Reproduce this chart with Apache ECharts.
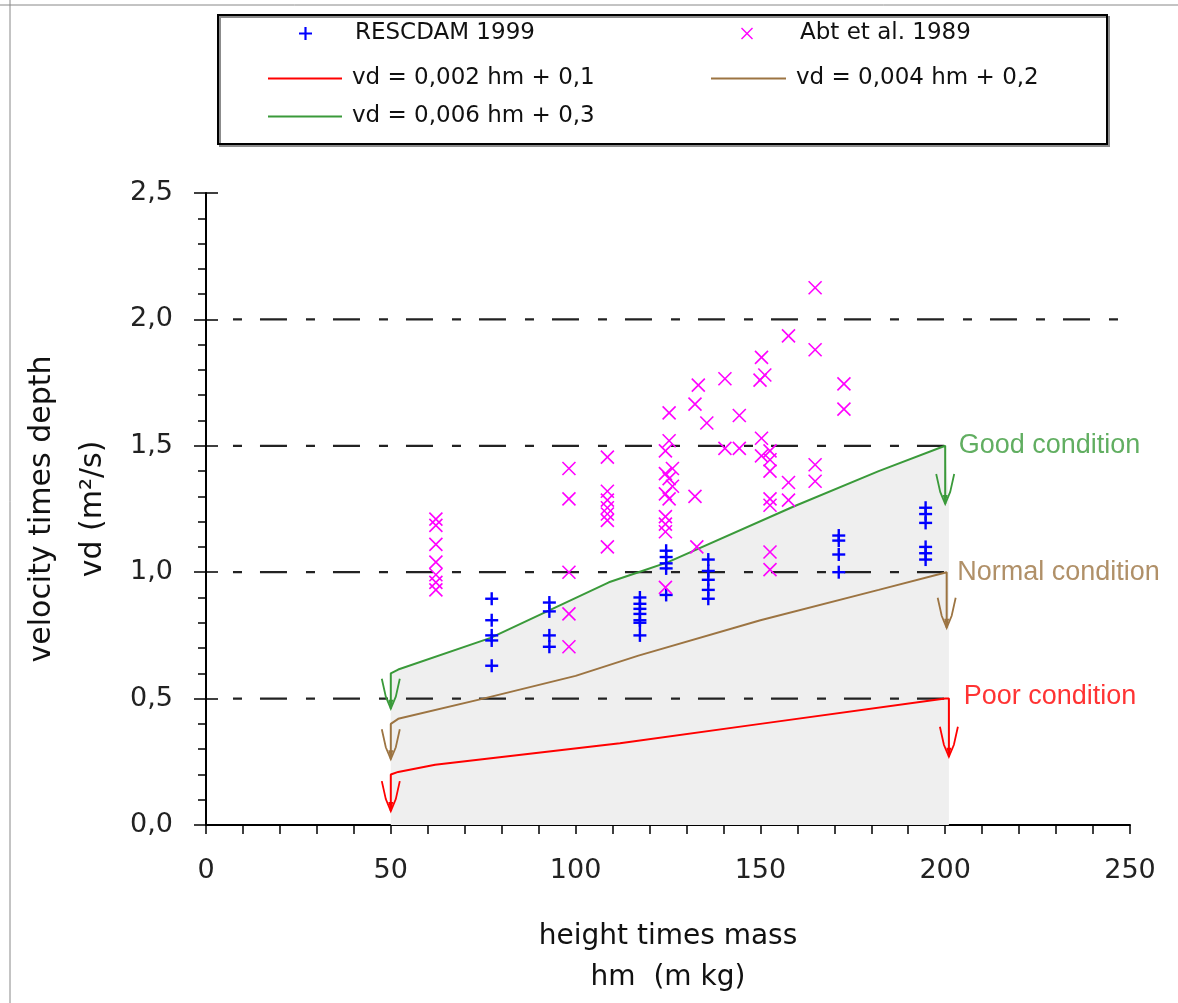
<!DOCTYPE html>
<html>
<head>
<meta charset="utf-8">
<script src="https://cdn.jsdelivr.net/npm/echarts@6/dist/echarts.min.js"></script>
<style>
html, body {margin:0; padding:0; background:#fff;}
#main {width:1178px; height:1003px;}
</style>
</head>
<body>
<div id="main"></div>
<script>
// RESCDAM 1999 measurements [hm, vd]
var rescdam = [
    [77.3,0.895],[77.3,0.81],[77.3,0.75],[77.3,0.73],[77.3,0.63],
    [92.9,0.88],[92.9,0.845],[92.9,0.75],[92.9,0.705],
    [117.4,0.90],[117.4,0.875],[117.4,0.855],[117.4,0.835],[117.4,0.81],[117.4,0.80],[117.4,0.75],
    [124.5,1.085],[124.5,1.06],[124.5,1.035],[124.5,1.015],[124.5,0.91],
    [135.9,1.05],[135.9,1.005],[135.9,0.97],[135.9,0.93],[135.9,0.895],
    [171.2,1.145],[171.2,1.125],[171.2,1.07],[171.2,1.0],
    [194.7,1.255],[194.7,1.23],[194.7,1.195],[194.7,1.10],[194.7,1.075],[194.7,1.05]
];
// Abt et al. 1989 measurements [hm, vd]
var abt = [
    [62.2,1.21],[62.2,1.185],[62.2,1.11],[62.2,1.04],[62.2,0.99],[62.2,0.96],[62.2,0.93],
    [98.2,1.41],[98.2,1.29],[98.2,1.0],[98.2,0.835],[98.2,0.705],
    [108.6,1.455],[108.6,1.32],[108.6,1.285],[108.6,1.255],[108.6,1.23],[108.6,1.205],[108.6,1.10],
    [125.3,1.63],[125.3,1.52],[124.3,1.48],[126.2,1.41],[124.3,1.39],[125.3,1.37],[126.2,1.34],
    [124.3,1.31],[125.3,1.29],[124.3,1.22],[124.3,1.19],[124.3,1.16],[124.3,0.94],
    [132.3,1.30],[132.8,1.10],[133.2,1.74],[132.3,1.665],[135.5,1.59],
    [140.4,1.765],[144.3,1.62],[140.4,1.49],[144.3,1.49],
    [150.3,1.85],[151.2,1.78],[149.9,1.76],[150.3,1.53],[150.3,1.46],[152.6,1.48],[152.6,1.445],
    [152.6,1.40],[152.6,1.29],[152.6,1.265],[152.6,1.08],[152.6,1.01],
    [157.6,1.935],[157.6,1.355],[157.6,1.285],
    [164.8,2.125],[164.8,1.88],[164.8,1.425],[164.8,1.36],
    [172.6,1.745],[172.6,1.645]
];
// condition curves, first and last points are the arrow tips
var redLine = [[50,0.055],[50,0.2],[52,0.21],[62,0.238],[112,0.323],[150,0.40],[200,0.5],[201,0.5],[201,0.27]];
var brownLine = [[50,0.26],[50,0.4],[52,0.42],[75,0.5],[100,0.59],[117,0.67],[150,0.81],[182,0.93],[200.4,1.0],[200.4,0.78]];
var greenLine = [[50,0.46],[50,0.6],[52,0.615],[77,0.74],[93,0.85],[109,0.96],[117,1.0],[125,1.04],[159,1.26],[182,1.40],[200,1.5],[200,1.27]];

var lineNames = ['vd = 0,002 hm + 0,1', 'vd = 0,004 hm + 0,2', 'vd = 0,006 hm + 0,3'];
var condNames = ['Poor condition', 'Normal condition', 'Good condition'];
var refLevels = [0.5, 1.0, 1.5, 2.0];
var refStart = 7.3;
var refEnd = [200, 200.4, 200, 247.3];

var RED = '#ff0000', BROWN = '#9c7442', GREEN = '#3a9a3a';
var lineColors = [RED, BROWN, GREEN];
var lines = [redLine, brownLine, greenLine];
var condOffset = [[18,-2],[10,0],[13,0]];

var FONT = 'DejaVu Sans';

var chart = echarts.init(document.getElementById('main'));

function renderArrow(params, api) {
    var p = api.coord([api.value(0), api.value(1)]);
    var c = api.visual('color');
    var x = p[0], y = p[1];
    return {
        type: 'group',
        children: [
            {type:'polyline', shape:{points:[[x-9,y-30],[x-5,y-12],[x,y],[x+5,y-12],[x+9,y-30]]},
                style:{stroke:c, fill:null, lineWidth:1.8}},
            {type:'polygon', shape:{points:[[x-2.5,y-9],[x+2.5,y-9],[x,y]]}, style:{fill:c}}
        ]
    };
}

// + and x markers drawn as strokes
function renderMark(kind, half, width) {
    return function(params, api) {
        var p = api.coord([api.value(0), api.value(1)]);
        var c = api.visual('color');
        var x = p[0], y = p[1];
        var segs = kind == 'plus'
            ? [[x-half, y, x+half, y], [x, y-half, x, y+half]]
            : [[x-half, y-half, x+half, y+half], [x+half, y-half, x-half, y+half]];
        return {
            type:'group',
            children: segs.map(function(s) {
                return {type:'line', shape:{x1:s[0], y1:s[1], x2:s[2], y2:s[3]}, style:{stroke:c, lineWidth:width}};
            })
        };
    };
}

var series = [];
// grey band under the good condition curve
var fillData = greenLine.slice(1, greenLine.length - 1).concat([[201, 1.27]]);
series.push({
    type:'line', data:fillData, symbol:'none', silent:true, z:1,
    lineStyle:{width:0}, areaStyle:{color:'#efefef', opacity:1, origin:'start'}
});
// dash-dot reference levels
refLevels.forEach(function(lv, i) {
    series.push({
        type:'line', data:[[refStart, lv], [refEnd[i], lv]], symbol:'none', silent:true, z:2,
        lineStyle:{color:'#222', width:2.2, type:[9,18,27,19]}
    });
});
lines.forEach(function(d, i) {
    series.push({
        name:lineNames[i], type:'line', data:d, symbol:'none', z:3,
        lineStyle:{color:lineColors[i], width:2}, itemStyle:{color:lineColors[i]}
    });
    series.push({
        type:'custom', renderItem:renderArrow, z:3, silent:true,
        data:[d[0], d[d.length - 1]], itemStyle:{color:lineColors[i]}
    });
});
// condition labels at the curve ends
lines.forEach(function(d, i) {
    var pt = d[d.length - 3];
    if (i == 1 || i == 2) pt = d[d.length - 2];
    series.push({
        type:'scatter', data:[pt], symbolSize:1, silent:true, z:5,
        itemStyle:{color:'rgba(0,0,0,0)'},
        label:{show:true, position:'right', distance:0, offset:condOffset[i], formatter:condNames[i],
            color:lineColors[i], fontFamily:'Liberation Sans', fontSize:27}
    });
});
series.push({
    name:'RESCDAM 1999', type:'custom', data:rescdam, renderItem:renderMark('plus', 6.5, 2.4), z:4,
    itemStyle:{color:'#0000ff'}
});
series.push({
    name:'Abt et al. 1989', type:'custom', data:abt, renderItem:renderMark('cross', 6.5, 1.6), z:4,
    itemStyle:{color:'#ff00ff'}
});

function legendItem(name, left, top, w, h, pad, icon) {
    return {
        data:[{name:name, icon:icon}], left:left, top:top, itemWidth:w, itemHeight:h, padding:0,
        selectedMode:false,
        textStyle:{fontFamily:FONT, fontSize:23, lineHeight:23, color:'#111', padding:[0,0,0,pad]}
    };
}
var plusIcon = 'path://M5,0H7V5H12V7H7V12H5V7H0V5H5Z';
var crossIcon = 'path://M0,1L1,0L6,5L11,0L12,1L7,6L12,11L11,12L6,7L1,12L0,11L5,6Z';

var option = {
    backgroundColor:'#fff',
    animation:false,
    grid:{left:206, right:48, top:193, bottom:176},
    legend:[
        legendItem('RESCDAM 1999', 299, 22, 13, 13, 38, plusIcon),
        legendItem('Abt et al. 1989', 741, 22, 12, 12, 42, crossIcon),
        legendItem(lineNames[0], 268, 67, 74, 2, 5, 'rect'),
        legendItem(lineNames[1], 711, 67, 75, 2, 5, 'rect'),
        legendItem(lineNames[2], 268, 105, 74, 2, 5, 'rect')
    ],
    xAxis:{
        type:'value', min:0, max:250, interval:50,
        name:'height times mass\nhm  (m kg)', nameLocation:'middle', nameGap:91,
        nameTextStyle:{fontFamily:FONT, fontSize:28, lineHeight:41, color:'#111'},
        axisLine:{lineStyle:{color:'#000', width:2}},
        axisTick:{length:9, lineStyle:{color:'#000', width:1.5}},
        minorTick:{show:true, splitNumber:5, length:9, lineStyle:{color:'#000', width:1.5}},
        axisLabel:{margin:32, fontFamily:FONT, fontSize:27, color:'#222'},
        splitLine:{show:false}
    },
    yAxis:[{
        type:'value', min:0, max:2.5, interval:0.5,
        name:'velocity times depth\nvd (m²/s)', nameLocation:'middle', nameGap:86, nameRotate:90,
        nameTextStyle:{fontFamily:FONT, fontSize:30, lineHeight:51, color:'#111'},
        axisLine:{lineStyle:{color:'#000', width:2}},
        axisTick:{length:12, lineStyle:{color:'#000', width:1.5}},
        minorTick:{show:true, splitNumber:5, length:8, lineStyle:{color:'#000', width:1.5}},
        axisLabel:{margin:33, fontFamily:FONT, fontSize:27, color:'#222',
            formatter:function(v){ return v.toFixed(1).replace('.', ','); }},
        splitLine:{show:false}
    }, {
        type:'value', min:0, max:2.5, interval:0.5, position:'left',
        axisLine:{show:false}, axisLabel:{show:false}, splitLine:{show:false},
        axisTick:{show:true, inside:true, length:12, lineStyle:{color:'#000', width:1.5}}
    }],
    graphic:[
        {type:'line', shape:{x1:0, y1:5, x2:1178, y2:5}, style:{stroke:'#888', lineWidth:1}},
        {type:'line', shape:{x1:10, y1:0, x2:10, y2:1003}, style:{stroke:'#888', lineWidth:1}},
        {type:'rect', shape:{x:218, y:15, width:889, height:129}, z:-1,
            style:{fill:null, stroke:'#000', lineWidth:2, shadowColor:'rgba(0,0,0,0.45)', shadowOffsetX:2, shadowOffsetY:2}}
    ],
    series:series
};
chart.setOption(option);
</script>
</body>
</html>
